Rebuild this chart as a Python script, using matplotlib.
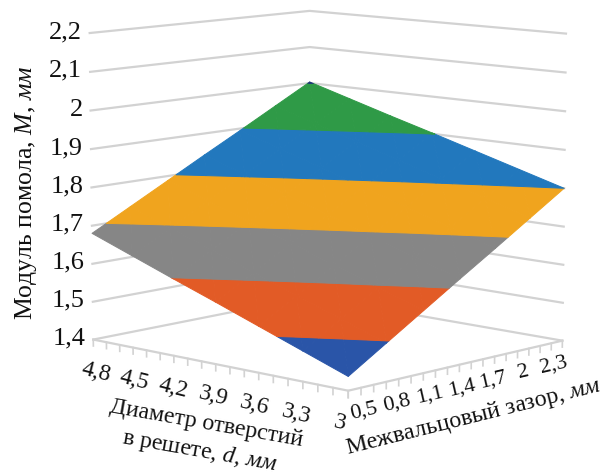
import numpy as np
import matplotlib
matplotlib.use('Agg')
import matplotlib.pyplot as plt
from mpl_toolkits.mplot3d import proj3d
from mpl_toolkits.mplot3d.art3d import Poly3DCollection

plt.rcParams['font.family'] = ['Liberation Serif', 'DejaVu Serif']
plt.rcParams['mathtext.fontset'] = 'custom'
plt.rcParams['mathtext.rm'] = 'Liberation Serif'
plt.rcParams['mathtext.it'] = 'Liberation Serif:italic'

#%% data
d_vals = [3.0, 3.3, 3.6, 3.9, 4.2, 4.5, 4.8]
gap_vals = [0.5, 0.8, 1.1, 1.4, 1.7, 2.0, 2.3]
d_labels = ['3', '3,3', '3,6', '3,9', '4,2', '4,5', '4,8']
gap_labels = ['0,5', '0,8', '1,1', '1,4', '1,7', '2', '2,3']
m_ticks = [1.4, 1.5, 1.6, 1.7, 1.8, 1.9, 2.0, 2.1, 2.2]
m_labels = ['1,4', '1,5', '1,6', '1,7', '1,8', '1,9', '2', '2,1', '2,2']

# rows follow d_vals, columns follow gap_vals
M = np.array([
    [1.435, 1.496, 1.557, 1.618, 1.678, 1.739, 1.800],
    [1.476, 1.536, 1.596, 1.655, 1.714, 1.774, 1.834],
    [1.517, 1.575, 1.634, 1.693, 1.750, 1.809, 1.868],
    [1.558, 1.615, 1.673, 1.730, 1.787, 1.844, 1.902],
    [1.598, 1.655, 1.711, 1.767, 1.823, 1.879, 1.935],
    [1.639, 1.694, 1.750, 1.805, 1.859, 1.914, 1.969],
    [1.680, 1.734, 1.788, 1.842, 1.895, 1.949, 2.003],
])

band_colors = ['#2a55a8', '#e25b26', '#868686', '#f0a41e', '#2278bd', '#2f9a47', '#1f3a7a']
grid_color = '#d2d2d2'


def clip(poly, level, keep_above):
    # cut a polygon with a horizontal plane
    res = []
    n = len(poly)
    for i in range(n):
        a = poly[i]
        b = poly[(i + 1) % n]
        ina = a[2] >= level if keep_above else a[2] <= level
        inb = b[2] >= level if keep_above else b[2] <= level
        if ina:
            res.append(a)
        if ina != inb:
            t = (level - a[2]) / (b[2] - a[2])
            res.append(tuple(a[k] + t * (b[k] - a[k]) for k in range(3)))
    return res


def band_polys(lo, hi):
    polys = []
    for i in range(len(d_vals) - 1):
        for j in range(len(gap_vals) - 1):
            p00 = (gap_vals[j], d_vals[i], M[i, j])
            p01 = (gap_vals[j + 1], d_vals[i], M[i, j + 1])
            p10 = (gap_vals[j], d_vals[i + 1], M[i + 1, j])
            p11 = (gap_vals[j + 1], d_vals[i + 1], M[i + 1, j + 1])
            for tri in ([p00, p01, p11], [p00, p11, p10]):
                part = clip(tri, lo, True)
                if part:
                    part = clip(part, hi, False)
                if len(part) >= 3:
                    polys.append(part)
    return polys


def label3d(x, y, z, s, **kw):
    # flat text placed at a projected 3d point
    px, py, _ = proj3d.proj_transform(x, y, z, ax.get_proj())
    ax.text2D(px, py, s, transform=ax.transData, color='#111111', **kw)


#%% axes
fig = plt.figure(figsize=(6.05, 4.75), dpi=100)
# the 3d box is square, so make it bigger than the figure to keep the corners from clipping
ax = fig.add_axes([-38 / 605, -78.5 / 475, 712 / 605, 712 / 475], projection='3d', computed_zorder=False)
ax.patch.set_alpha(0)
ax.set_proj_type('persp', focal_length=0.8)
ax.view_init(elev=8.7, azim=-137.0)
ax.set_box_aspect((318, 349, 310), zoom=0.771)
ax.set_xlim(gap_vals[0], gap_vals[-1], view_margin=0)
ax.set_ylim(d_vals[0], d_vals[-1], view_margin=0)
ax.set_zlim(m_ticks[0], m_ticks[-1], view_margin=0)
ax.set_axis_off()

g0, g1 = gap_vals[0], gap_vals[-1]
d0, d1 = d_vals[0], d_vals[-1]
z0 = m_ticks[0]

# wall grid
for m in m_ticks:
    ax.plot([g0, g1, g1], [d1, d1, d0], [m, m, m], color=grid_color, lw=1.6, zorder=1)

# floor edges and small ticks
ax.plot([g0, g0, g1], [d1, d0, d0], [z0, z0, z0], color=grid_color, lw=1.6, zorder=1)
for t in np.linspace(d0, d1, 19):
    ax.plot([g0, g0], [t, t], [z0, z0 - 0.017], color=grid_color, lw=1.2, zorder=1)
for t in np.linspace(g0, g1, 19):
    ax.plot([t, t], [d0, d0], [z0, z0 - 0.017], color=grid_color, lw=1.2, zorder=1)

# surface split in bands of 0.1
for k, col in enumerate(band_colors):
    polys = band_polys(m_ticks[k], m_ticks[k + 1])
    if polys:
        pc = Poly3DCollection(polys, facecolors=col, edgecolors=col, linewidths=0.7, shade=False, zorder=3)
        ax.add_collection3d(pc)

# tick labels, the two floor rows sit a bit tighter than the ticks
for m, s in zip(m_ticks, m_labels):
    label3d(g0, d1 + 0.06, m, s, ha='right', va='center', fontsize=19)
for d, s in zip(d_vals, d_labels):
    label3d(g0 - 0.03, d * 0.955 + 0.165, z0 - 0.08, s, ha='center', va='center', rotation=-14,
            rotation_mode='anchor', fontsize=17)
for g, s in zip(gap_vals, gap_labels):
    label3d(g * 0.889 + 0.1755, d0, z0 - 0.06, s, ha='center', va='center', rotation=13,
            rotation_mode='anchor', fontsize=16)

# axis titles
fig.text(26 / 605, 1 - 193 / 475, r'Модуль помола, $\mathit{M}$, $\mathit{мм}$', rotation=90,
         ha='center', va='center', fontsize=18.5, color='#111111')
fig.text(206 / 605, 1 - 424 / 475, 'Диаметр отверстий', rotation=-10, rotation_mode='anchor',
         ha='center', va='center', fontsize=17.2, color='#111111')
fig.text(200 / 605, 1 - 451 / 475, r'в решете, $\mathit{d}$, $\mathit{мм}$', rotation=-10, rotation_mode='anchor',
         ha='center', va='center', fontsize=17.2, color='#111111')
fig.text(473 / 605, 1 - 417 / 475, r'Межвальцовый зазор, $\mathit{мм}$', rotation=14, rotation_mode='anchor',
         ha='center', va='center', fontsize=17.3, color='#111111')

fig.savefig('out.png', dpi=100)
